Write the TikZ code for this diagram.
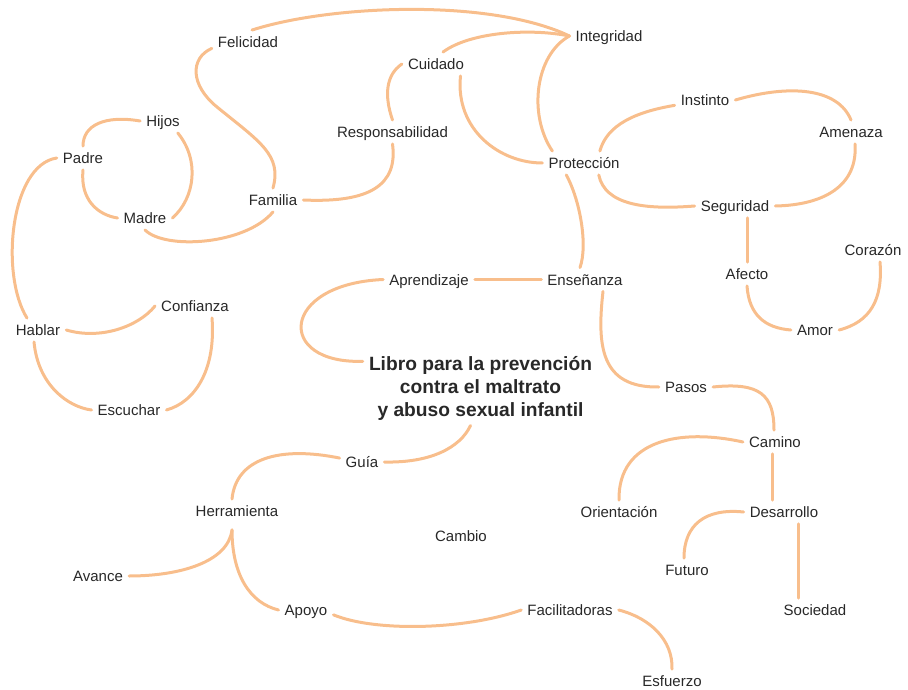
\documentclass[tikz,border=0pt]{standalone}
\usepackage{fontspec}
\setmainfont{Liberation Sans}
\definecolor{linec}{RGB}{248,190,140}
\definecolor{txtc}{RGB}{40,40,40}
\newcommand{\lblfont}{\fontsize{15}{18}\selectfont}
\newcommand{\ttlfont}{\fontsize{19.2}{22.8}\selectfont\bfseries}
\tikzset{
  lbl/.style={inner xsep=6pt, inner ysep=5pt, text height=12.5pt, text depth=1pt, font=\lblfont, text=txtc},
  ttl/.style={inner xsep=6pt, inner ysep=5pt, align=center, font=\ttlfont, text=txtc},
  conn/.style={draw=linec, line width=3pt, line cap=round}
}
\begin{document}
\begin{tikzpicture}[x=1pt, y=-1pt]
\useasboundingbox (0,0) rectangle (908,690);
% nodes
\node[lbl] (felicidad) at (248,42) {Felicidad};
\node[lbl] (integridad) at (609,36) {Integridad};
\node[lbl] (cuidado) at (436,64) {Cuidado};
\node[lbl] (hijos) at (163,121) {Hijos};
\node[lbl] (responsabilidad) at (392.5,132) {Responsabilidad};
\node[lbl] (padre) at (83,158) {Padre};
\node[lbl] (instinto) at (705,100) {Instinto};
\node[lbl] (amenaza) at (851,132) {Amenaza};
\node[lbl] (proteccion) at (584,163) {Protección};
\node[lbl] (familia) at (273,200) {Familia};
\node[lbl] (madre) at (145,218) {Madre};
\node[lbl] (seguridad) at (735,206) {Seguridad};
\node[lbl] (corazon) at (873,250) {Corazón};
\node[lbl] (afecto) at (747,274) {Afecto};
\node[lbl] (aprendizaje) at (429,279.5) {Aprendizaje};
\node[lbl] (ensenanza) at (585,279.5) {Enseñanza};
\node[lbl] (confianza) at (195,306) {Confianza};
\node[lbl] (hablar) at (38,330) {Hablar};
\node[lbl] (amor) at (815,330) {Amor};
\node[ttl] (title) at (480.5,388.5) {Libro para la prevención\\contra el maltrato\\y abuso sexual infantil};
\node[lbl] (pasos) at (686,387) {Pasos};
\node[lbl] (escuchar) at (129,410) {Escuchar};
\node[lbl] (camino) at (775,442) {Camino};
\node[lbl] (guia) at (362,462) {Guía};
\node[lbl] (herramienta) at (237,511) {Herramienta};
\node[lbl] (orientacion) at (619,512) {Orientación};
\node[lbl] (desarrollo) at (784,512) {Desarrollo};
\node[lbl] (cambio) at (461,536) {Cambio};
\node[lbl] (futuro) at (687,570) {Futuro};
\node[lbl] (avance) at (98,576) {Avance};
\node[lbl] (apoyo) at (306,610) {Apoyo};
\node[lbl] (facilitadoras) at (570,610) {Facilitadoras};
\node[lbl] (sociedad) at (815,610) {Sociedad};
\node[lbl] (esfuerzo) at (672,681) {Esfuerzo};
\coordinate (hb) at ([xshift=-5pt,yshift=-7pt]herramienta.south);
% connectors
\draw[conn] ([xshift=4pt]felicidad.north) .. controls (330,5) and (490,-2) .. (integridad.west);
\draw[conn] (felicidad.190) .. controls (190,58) and (190,85) .. (217,107)
            .. controls (260,142) and (282,155) .. (familia.north);
\draw[conn] (hijos.west) .. controls (105,115) and (83,125) .. (padre.north);
\draw[conn] (hijos.-39) .. controls (200,160) and (195,198) .. (madre.east);
\draw[conn] (padre.south) .. controls (80,200) and (98,215) .. (madre.west);
\draw[conn] (madre.south) .. controls (165,250) and (245,245) .. (familia.south);
\draw[conn] (familia.east) .. controls (370,203) and (398,185) .. (responsabilidad.south);
\draw[conn] (responsabilidad.north) .. controls (384,95) and (386,75) .. (cuidado.west);
\draw[conn] ([xshift=7pt]cuidado.north) .. controls (470,32) and (530,28) .. (integridad.west);
\draw[conn] (cuidado.-26) .. controls (455,130) and (500,163) .. (proteccion.west);
\draw[conn] (integridad.west) .. controls (535,55) and (528,115) .. ([xshift=10pt]proteccion.north west);
\draw[conn] (proteccion.-146) .. controls (580,200) and (588,245) .. ([xshift=-5pt]ensenanza.north);
\draw[conn] (proteccion.37) .. controls (607,125) and (635,112) .. (instinto.190);
\draw[conn] (instinto.east) .. controls (790,84) and (838,88) .. (amenaza.north);
\draw[conn] (proteccion.-39) .. controls (605,205) and (645,210) .. (seguridad.west);
\draw[conn] ([xshift=4pt]amenaza.south) .. controls (858,185) and (825,205) .. (seguridad.east);
\draw[conn] (seguridad.south -| afecto.north) -- (afecto.north);
\draw[conn] (afecto.south) .. controls (749,315) and (765,328) .. (amor.west);
\draw[conn] (amor.east) .. controls (870,322) and (883,300) .. ([xshift=7pt]corazon.south);
\draw[conn] (aprendizaje) -- (ensenanza);
\draw[conn] (aprendizaje.west) .. controls (280,284) and (275,364) .. (title.167);
\draw[conn] ([xshift=18pt]ensenanza.south) .. controls (597,345) and (600,388) .. (pasos.west);
\draw[conn] (pasos.east) .. controls (760,382) and (774,395) .. ([xshift=-1pt]camino.north);
\draw[conn] (camino.west) .. controls (680,428) and (618,440) .. (orientacion.north);
\draw[conn] ([xshift=-3pt]camino.south) -- ([xshift=-3pt]camino.south |- desarrollo.north);
\draw[conn] (desarrollo.west) .. controls (705,508) and (684,525) .. ([xshift=-3pt]futuro.north);
\draw[conn] ([xshift=14pt]desarrollo.south) -- ([xshift=14pt]desarrollo.south |- sociedad.north);
\draw[conn] (facilitadoras.east) .. controls (650,618) and (673,640) .. (esfuerzo.north);
\draw[conn] (apoyo.-10) .. controls (375,632) and (465,630) .. (facilitadoras.west);
\draw[conn] (hb) .. controls (232,575) and (250,603) .. (apoyo.west);
\draw[conn] (hb) .. controls (228,562) and (180,576) .. (avance.east);
\draw[conn] ([xshift=-5pt]herramienta.north) .. controls (236,458) and (280,446) .. (guia.170);
\draw[conn] (guia.east) .. controls (430,463) and (460,448) .. ([xshift=-10pt]title.south);
\draw[conn] (padre.west) .. controls (10,165) and (0,275) .. ([xshift=-11pt]hablar.north);
\draw[conn] (hablar.east) .. controls (100,340) and (138,327) .. (confianza.west);
\draw[conn] ([xshift=-4pt]hablar.south) .. controls (38,385) and (68,407) .. (escuchar.west);
\draw[conn] ([xshift=17pt]confianza.south) .. controls (216,370) and (195,402) .. (escuchar.east);
\end{tikzpicture}
\end{document}
